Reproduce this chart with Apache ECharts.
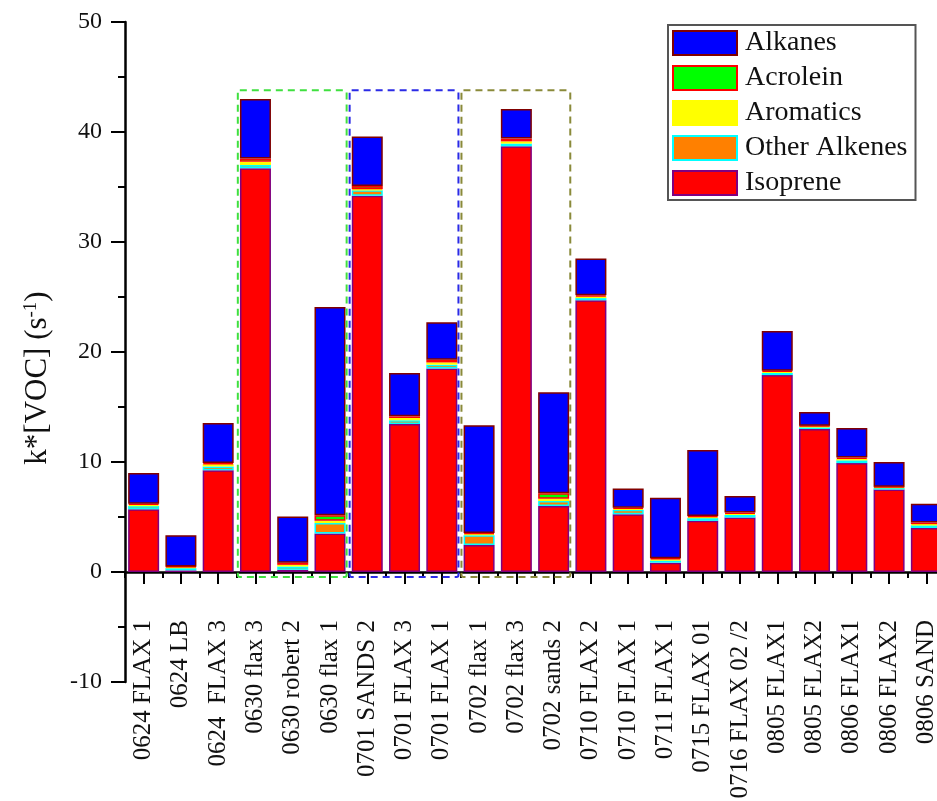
<!DOCTYPE html>
<html>
<head>
<meta charset="utf-8">
<script src="https://cdn.jsdelivr.net/npm/echarts@6/dist/echarts.min.js"></script>
<style>
html,body{margin:0;padding:0;background:#fff;}
#chart{width:937px;height:801px;}
</style>
</head>
<body>
<div id="chart"></div>
<script>
var categories = ['0624 FLAX 1','0624 LB','0624  FLAX 3','0630 flax 3','0630 robert 2','0630 flax 1','0701 SANDS 2','0701 FLAX 3','0701 FLAX 1','0702 flax 1','0702 flax 3','0702 sands 2','0710 FLAX 2','0710 FLAX 1','0711 FLAX 1','0715 FLAX 01','0716 FLAX 02 /2','0805 FLAX1','0805 FLAX2','0806 FLAX1','0806 FLAX2','0806 SAND'];
var isoprene     = [5.7, 0.15, 9.25, 36.7, 0.2, 3.5, 34.2, 13.45, 18.5, 2.45, 38.7, 6.0, 24.7, 5.25, 0.85, 4.65, 4.95, 17.9, 13.0, 9.9, 7.5, 4.0];
var otherAlkenes = [0.3, 0.2, 0.35, 0.3, 0.3, 0.95, 0.5, 0.35, 0.35, 0.9, 0.25, 0.45, 0.2, 0.4, 0.2, 0.25, 0.25, 0.2, 0.15, 0.25, 0.15, 0.25];
var aromatics    = [0.1, 0.1, 0.2, 0.3, 0.15, 0.2, 0.1, 0.2, 0.2, 0.1, 0.2, 0.2, 0.15, 0.1, 0.1, 0.1, 0.1, 0.1, 0.1, 0.15, 0.05, 0.1];
var acrolein     = [0.1, 0.05, 0.1, 0.3, 0.2, 0.5, 0.3, 0.15, 0.25, 0.1, 0.25, 0.5, 0.1, 0.1, 0.1, 0.1, 0.1, 0.1, 0.05, 0.1, 0.05, 0.15];
var alkanes      = [2.8, 2.85, 3.65, 5.4, 4.2, 18.95, 4.5, 3.95, 3.4, 9.8, 2.7, 9.2, 3.35, 1.75, 5.5, 6.0, 1.5, 3.6, 1.25, 2.7, 2.25, 1.7];
var yTicks = [-10, 0, 10, 20, 30, 40, 50];
// dashed group boxes: first category index, last category index, top value, bottom value
var boxStart = [3, 6, 9];
var boxEnd   = [5, 8, 11];
var boxTop   = [43.8, 43.8, 43.8];
var boxBottom = [-0.45, -0.45, -0.45];
var boxColors = ['#3fe03f', '#2b2be6', '#8a8a3a'];

var FONT = "'Liberation Serif', 'DejaVu Serif', serif";
var GRID_H = 660;
var yMin = yTicks[0], yMax = yTicks[yTicks.length - 1];
// shift the category axis from the grid bottom up to the value-0 line
var zeroOffset = -GRID_H * (0 - yMin) / (yMax - yMin);

var chart = echarts.init(document.getElementById('chart'), null, {renderer: 'canvas'});

function barSeries(name, data, fill, border) {
  return {
    name: name, type: 'bar', stack: 'voc', data: data,
    barWidth: 31,
    xAxisIndex: 0, yAxisIndex: 0,
    itemStyle: {color: fill, borderColor: border, borderWidth: 1.5},
    emphasis: {disabled: true}
  };
}

var boxData = boxStart.map(function (s, i) { return [s, boxEnd[i], boxTop[i], boxBottom[i]]; });

var option = {
  animation: false,
  backgroundColor: '#ffffff',
  grid: {left: 125, top: 22, width: 820, height: GRID_H, containLabel: false, outerBoundsMode: 'none'},
  legend: {
    data: ['Alkanes', 'Acrolein', 'Aromatics', 'Other Alkenes', 'Isoprene'],
    orient: 'vertical', left: 668, top: 25,
    itemWidth: 64, itemHeight: 24, itemGap: 7,
    padding: [4, 8, 3, 4],
    borderColor: '#555', borderWidth: 2,
    selectedMode: false,
    icon: 'rect',
    textStyle: {fontFamily: FONT, fontSize: 28, color: '#111', padding: [0, 0, 0, 3]}
  },
  xAxis: [{
    type: 'category', data: categories, position: 'bottom', offset: zeroOffset,
    axisLine: {show: true, onZero: false, lineStyle: {color: '#000', width: 2.5}},
    axisTick: {show: true, interval: 0, inside: false, alignWithLabel: true, length: 12, lineStyle: {color: '#000', width: 2}},
    axisLabel: {interval: 0, rotate: 90, margin: 48, fontFamily: FONT, fontSize: 25, color: '#111'},
    splitLine: {show: false}
  }, {
    type: 'category', data: categories, position: 'bottom', offset: zeroOffset,
    axisLine: {onZero: false, show: false},
    axisTick: {show: true, interval: 0, inside: false, alignWithLabel: false, length: 6, lineStyle: {color: '#000', width: 2}},
    axisLabel: {show: false},
    splitLine: {show: false}
  }],
  yAxis: {
    type: 'value', min: yMin, max: yMax, interval: 10,
    name: 'k*[VOC] (s{sup|-1})',
    nameLocation: 'middle', nameGap: 72,
    nameTextStyle: {fontFamily: FONT, fontSize: 31, color: '#111', padding: [0, 52, 0, 0],
      rich: {sup: {fontFamily: FONT, fontSize: 19, color: '#111', verticalAlign: 'top', padding: [0, 0, 12, 0]}}},
    axisLine: {show: true, onZero: false, lineStyle: {color: '#000', width: 2.5}},
    axisTick: {show: true, length: 14, lineStyle: {color: '#000', width: 2}},
    minorTick: {show: true, splitNumber: 2, length: 7, lineStyle: {color: '#000', width: 2}},
    axisLabel: {margin: 23, fontFamily: FONT, fontSize: 24, color: '#111'},
    splitLine: {show: false}
  },
  series: [
    barSeries('Isoprene', isoprene, '#ff0000', '#800080'),
    barSeries('Other Alkenes', otherAlkenes, '#ff8000', '#00ffff'),
    barSeries('Aromatics', aromatics, '#ffff00', '#ffff00'),
    barSeries('Acrolein', acrolein, '#00ff00', '#ff0000'),
    barSeries('Alkanes', alkanes, '#0000ff', '#800000'),
    {
      name: 'groups', type: 'custom', xAxisIndex: 0, yAxisIndex: 0,
      data: boxData, z: 10, clip: false, silent: true,
      encode: {x: 0, y: 2},
      renderItem: function (params, api) {
        var p0 = api.coord([api.value(0), api.value(2)]);
        var p1 = api.coord([api.value(1), api.value(3)]);
        var bw = api.size([1, 0])[0];
        var x0 = p0[0] - bw / 2 + 1;
        var x1 = p1[0] + bw / 2 - 2;
        return {
          type: 'rect',
          shape: {x: x0, y: p0[1], width: x1 - x0, height: p1[1] - p0[1], r: 2},
          style: {fill: 'none', stroke: boxColors[params.dataIndex], lineWidth: 2, lineDash: [7, 5]}
        };
      }
    }
  ]
};
chart.setOption(option);
</script>
</body>
</html>
